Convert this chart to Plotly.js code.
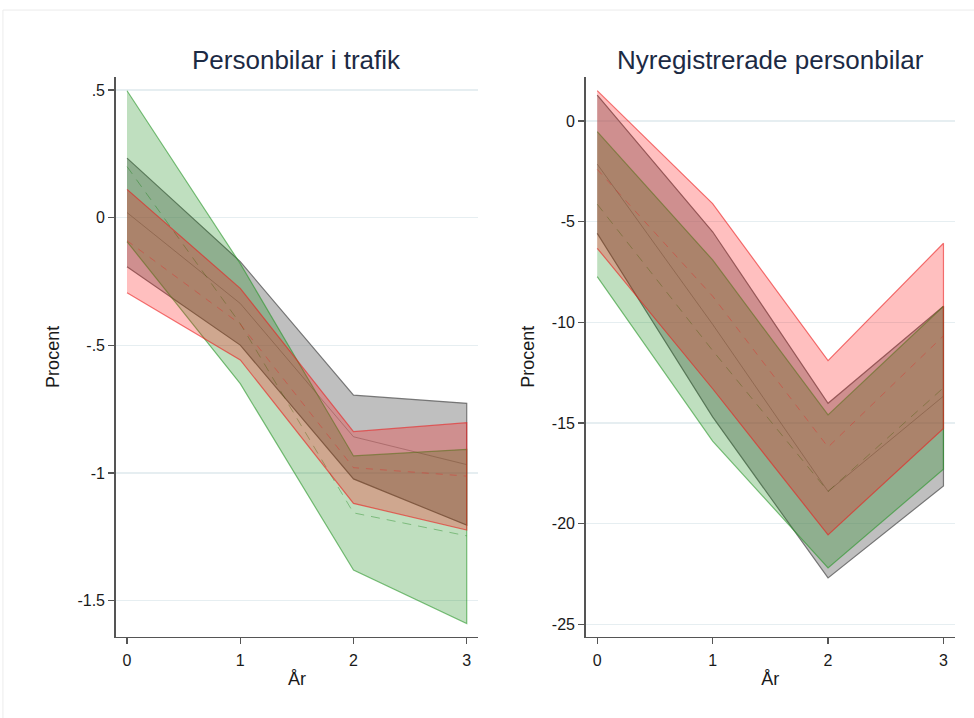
<!DOCTYPE html>
<html>
<head>
<meta charset="utf-8">
<script src="https://cdn.plot.ly/plotly-3.0.1.min.js"></script>
<style>
  html, body { margin: 0; padding: 0; background: #ffffff; }
  #chart { width: 974px; height: 718px; }
</style>
</head>
<body>
<div id="chart"></div>
<script>
// Years after the event
const years = [0, 1, 2, 3];

// Personbilar i trafik (percent): confidence bands and point estimates
const trafikGreyUpper  = [0.233, -0.172, -0.695, -0.727];
const trafikGreyLower  = [-0.192, -0.499, -1.023, -1.204];
const trafikGreyMid    = [0.02, -0.336, -0.858, -0.967];
const trafikGreenUpper = [0.497, -0.18, -0.933, -0.907];
const trafikGreenLower = [-0.094, -0.65, -1.38, -1.589];
const trafikGreenMid   = [0.20, -0.415, -1.156, -1.246];
const trafikRedUpper   = [0.111, -0.277, -0.838, -0.803];
const trafikRedLower   = [-0.294, -0.557, -1.119, -1.223];
const trafikRedMid     = [-0.09, -0.417, -0.979, -1.012];

// Nyregistrerade personbilar (percent)
const nyregGreyUpper  = [1.29, -5.5, -14.02, -9.2];
const nyregGreyLower  = [-5.58, -14.7, -22.7, -18.13];
const nyregGreyMid    = [-2.14, -10.1, -18.4, -13.67];
const nyregGreenUpper = [-0.53, -6.9, -14.6, -9.2];
const nyregGreenLower = [-7.73, -15.9, -22.2, -17.3];
const nyregGreenMid   = [-4.13, -11.4, -18.4, -13.25];
const nyregRedUpper   = [1.51, -4.1, -11.9, -6.07];
const nyregRedLower   = [-6.32, -13.3, -20.56, -15.27];
const nyregRedMid     = [-2.4, -8.7, -16.2, -10.67];

// Tick labels
const trafikTickVals = [0.5, 0, -0.5, -1, -1.5];
const trafikTickText = ['.5', '0', '-.5', '-1', '-1.5'];
const nyregTickVals  = [0, -5, -10, -15, -20, -25];
const nyregTickText  = ['0', '-5', '-10', '-15', '-20', '-25'];
const xTickText = ['0', '1', '2', '3'];

const styles = {
  grey:  { fill: 'rgba(128,128,128,0.5)', edge: 'rgba(100,100,100,0.85)', mid: 'rgba(90,90,90,0.45)',  dash: 'solid' },
  green: { fill: 'rgba(0,128,0,0.25)',    edge: 'rgba(40,150,40,0.6)',    mid: 'rgba(0,120,0,0.35)',   dash: '9px,7px' },
  red:   { fill: 'rgba(255,0,0,0.25)',    edge: 'rgba(235,30,30,0.6)',    mid: 'rgba(230,40,40,0.4)',  dash: '7px,7px' }
};

function band(upper, lower, st, xa, ya) {
  return {
    type: 'scatter', mode: 'lines', xaxis: xa, yaxis: ya,
    x: years.concat(years.slice().reverse()),
    y: upper.concat(lower.slice().reverse()),
    fill: 'toself', fillcolor: st.fill,
    line: { color: st.edge, width: 1.2 },
    hoverinfo: 'skip', showlegend: false
  };
}
function mid(vals, st, xa, ya) {
  return {
    type: 'scatter', mode: 'lines', xaxis: xa, yaxis: ya,
    x: years, y: vals,
    line: { color: st.mid, width: 1, dash: st.dash },
    hoverinfo: 'skip', showlegend: false
  };
}

const traces = [
  band(trafikGreyUpper, trafikGreyLower, styles.grey, 'x', 'y'),
  mid(trafikGreyMid, styles.grey, 'x', 'y'),
  band(trafikGreenUpper, trafikGreenLower, styles.green, 'x', 'y'),
  mid(trafikGreenMid, styles.green, 'x', 'y'),
  band(trafikRedUpper, trafikRedLower, styles.red, 'x', 'y'),
  mid(trafikRedMid, styles.red, 'x', 'y'),

  band(nyregGreyUpper, nyregGreyLower, styles.grey, 'x2', 'y2'),
  mid(nyregGreyMid, styles.grey, 'x2', 'y2'),
  band(nyregGreenUpper, nyregGreenLower, styles.green, 'x2', 'y2'),
  mid(nyregGreenMid, styles.green, 'x2', 'y2'),
  band(nyregRedUpper, nyregRedLower, styles.red, 'x2', 'y2'),
  mid(nyregRedMid, styles.red, 'x2', 'y2')
];

const fontFamily = 'Liberation Sans, Arial, sans-serif';
const tickFont = { family: fontFamily, size: 16, color: '#1a1a1a' };
const titleFont = { family: fontFamily, size: 18, color: '#1a1a1a' };

function xAxis(domain, anchor) {
  return {
    domain: domain, anchor: anchor, range: [-0.1, 3.1],
    tickvals: years, ticktext: xTickText,
    ticks: 'outside', ticklen: 6, tickwidth: 1.2, tickcolor: '#555',
    ticklabelstandoff: 3,
    showline: true, linecolor: '#555', linewidth: 1.5,
    showgrid: false, zeroline: false,
    tickfont: tickFont,
    title: { text: 'År', font: titleFont, standoff: 4 }
  };
}
function yAxis(domain, anchor, range, vals, text, standoff) {
  return {
    domain: domain, anchor: anchor, range: range,
    tickvals: vals, ticktext: text,
    ticks: 'outside', ticklen: 6, tickwidth: 1.2, tickcolor: '#555',
    showline: true, linecolor: '#555', linewidth: 1.5,
    showgrid: true, gridcolor: '#e6eef1', gridwidth: 1.2, zeroline: false,
    tickfont: tickFont,
    title: { text: 'Procent', font: titleFont, standoff: standoff }
  };
}

const layout = {
  width: 974, height: 718,
  margin: { l: 0, r: 0, t: 0, b: 0 },
  paper_bgcolor: '#ffffff', plot_bgcolor: '#ffffff',
  showlegend: false,
  xaxis:  xAxis([0.1188, 0.4908], 'y'),
  yaxis:  yAxis([0.1132, 0.8928], 'x', [-1.641, 0.551], trafikTickVals, trafikTickText, 13),
  xaxis2: xAxis([0.6013, 0.9805], 'y2'),
  yaxis2: yAxis([0.1132, 0.8928], 'x2', [-25.62, 2.19], nyregTickVals, nyregTickText, 12),
  annotations: [
    { text: 'Personbilar i trafik', xref: 'paper', yref: 'paper', x: 0.3048, y: 0.917,
      xanchor: 'center', yanchor: 'middle', showarrow: false,
      font: { family: fontFamily, size: 26, color: '#1c2a44' } },
    { text: 'Nyregistrerade personbilar', xref: 'paper', yref: 'paper', x: 0.791, y: 0.917,
      xanchor: 'center', yanchor: 'middle', showarrow: false,
      font: { family: fontFamily, size: 26, color: '#1c2a44' } }
  ],
  shapes: [
    { type: 'rect', xref: 'paper', yref: 'paper', x0: 0.003, x1: 1.01, y0: -0.01, y1: 0.986,
      line: { color: '#ececec', width: 1 }, fillcolor: 'rgba(0,0,0,0)', layer: 'below' }
  ]
};

Plotly.newPlot('chart', traces, layout, { staticPlot: true, displayModeBar: false });
</script>
</body>
</html>
